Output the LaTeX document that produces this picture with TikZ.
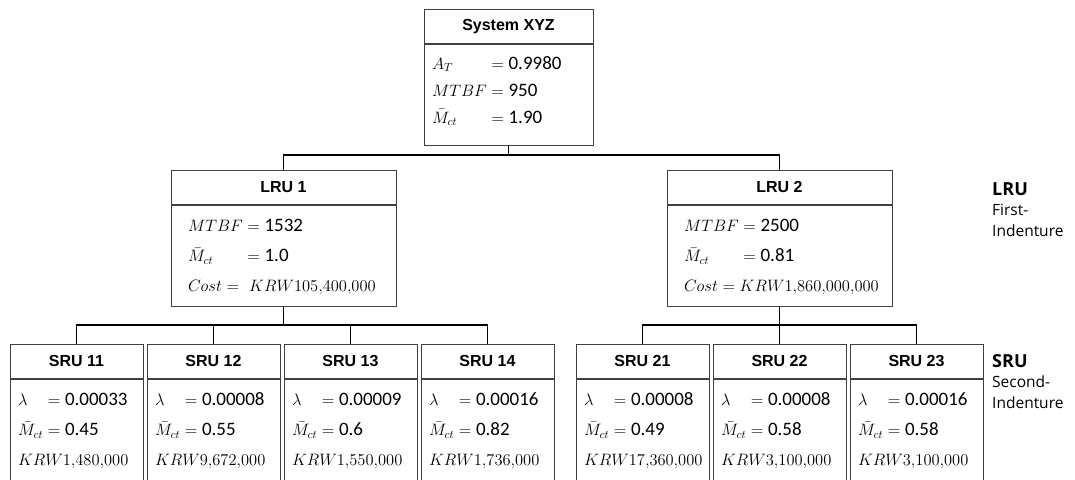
\RequirePackage{fix-cm}
\documentclass[tikz,border=0pt]{standalone}
\usepackage{fontspec}
\usepackage{tikz}
\usetikzlibrary{positioning}
\newfontfamily\hdrfont{Liberation Sans}
\newfontfamily\sidefont{Open Sans}
\setsansfont[Scale=1.15]{Carlito}
\newcommand{\val}[1]{\textsf{#1}}
\definecolor{boxline}{HTML}{404040}

\begin{document}
\begin{tikzpicture}[
        x=1pt, y=-1pt,
        hdr/.style={draw=boxline, line width=0.8pt, minimum width=#1, minimum height=34pt, inner sep=0pt, font=\hdrfont\bfseries\fontsize{16}{19}\selectfont},
        body/.style={draw=boxline, line width=0.8pt, minimum height=101pt, inner ysep=0pt, align=left, font=\fontsize{16.5}{20}\selectfont},
        sysbody/.style={body, text width=153pt, inner xsep=8pt},
        lrubody/.style={body, text width=191pt, inner xsep=17pt},
        srubody/.style={body, text width=117pt, inner xsep=8pt},
        side/.style={anchor=north west, align=left, inner sep=0pt, font=\sidefont\fontsize{15.5}{20.5}\selectfont},
        conn/.style={line width=1.8pt, draw=black}
    ]
    \path[fill=white, use as bounding box] (0,0) rectangle (1075,479);
    \clip (0,0) rectangle (1075,479);

    % system
    \node[hdr=169pt, anchor=north] (sys) at (508.5,9) {System XYZ};
    \node[sysbody, below=0pt of sys] (sysb) {\renewcommand{\arraystretch}{1.35}\begin{tabular}{@{}l@{\;}l@{}}
        $A_T$ & $=\val{0.9980}$\\
        $MTBF$ & $=\val{950}$\\
        $\bar{M}_{ct}$ & $=\val{1.90}$\rule[-16pt]{0pt}{0pt}
    \end{tabular}};

    % first indenture
    \node[hdr=225pt, anchor=north] (lru1) at (283.5,170) {LRU 1};
    \node[lrubody, below=0pt of lru1] (lru1b) {\renewcommand{\arraystretch}{1.5}\begin{tabular}{@{}l@{\;}l@{}}
        $MTBF$ & $=\val{1532}$\\
        $\bar{M}_{ct}$ & $=\val{1.0}$\\
        \multicolumn{2}{@{}l@{}}{$Cost =\ KRW105{,}400{,}000$}
    \end{tabular}};
    \node[hdr=225pt, anchor=north] (lru2) at (779.5,170) {LRU 2};
    \node[lrubody, below=0pt of lru2] (lru2b) {\renewcommand{\arraystretch}{1.5}\begin{tabular}{@{}l@{\;}l@{}}
        $MTBF$ & $=\val{2500}$\\
        $\bar{M}_{ct}$ & $=\val{0.81}$\\
        \multicolumn{2}{@{}l@{}}{$Cost = KRW1{,}860{,}000{,}000$}
    \end{tabular}};

    % second indenture
    \node[hdr=133pt, anchor=north] (s11) at (76.5,344) {SRU 11};
    \node[srubody, below=0pt of s11] (s11b) {\renewcommand{\arraystretch}{1.5}\begin{tabular}{@{}l@{\;}l@{}}
        $\lambda$ & $=\val{0.00033}$\\
        $\bar{M}_{ct}$ & $=\val{0.45}$\\
        \multicolumn{2}{@{}l@{}}{$KRW1{,}480{,}000$}
    \end{tabular}};
    \node[hdr=133pt, anchor=north] (s12) at (213.5,344) {SRU 12};
    \node[srubody, below=0pt of s12] (s12b) {\renewcommand{\arraystretch}{1.5}\begin{tabular}{@{}l@{\;}l@{}}
        $\lambda$ & $=\val{0.00008}$\\
        $\bar{M}_{ct}$ & $=\val{0.55}$\\
        \multicolumn{2}{@{}l@{}}{$KRW9{,}672{,}000$}
    \end{tabular}};
    \node[hdr=133pt, anchor=north] (s13) at (350.5,344) {SRU 13};
    \node[srubody, below=0pt of s13] (s13b) {\renewcommand{\arraystretch}{1.5}\begin{tabular}{@{}l@{\;}l@{}}
        $\lambda$ & $=\val{0.00009}$\\
        $\bar{M}_{ct}$ & $=\val{0.6}$\\
        \multicolumn{2}{@{}l@{}}{$KRW1{,}550{,}000$}
    \end{tabular}};
    \node[hdr=133pt, anchor=north] (s14) at (487.5,344) {SRU 14};
    \node[srubody, below=0pt of s14] (s14b) {\renewcommand{\arraystretch}{1.5}\begin{tabular}{@{}l@{\;}l@{}}
        $\lambda$ & $=\val{0.00016}$\\
        $\bar{M}_{ct}$ & $=\val{0.82}$\\
        \multicolumn{2}{@{}l@{}}{$KRW1{,}736{,}000$}
    \end{tabular}};
    \node[hdr=133pt, anchor=north] (s21) at (642.5,344) {SRU 21};
    \node[srubody, below=0pt of s21] (s21b) {\renewcommand{\arraystretch}{1.5}\begin{tabular}{@{}l@{\;}l@{}}
        $\lambda$ & $=\val{0.00008}$\\
        $\bar{M}_{ct}$ & $=\val{0.49}$\\
        \multicolumn{2}{@{}l@{}}{$KRW17{,}360{,}000$}
    \end{tabular}};
    \node[hdr=133pt, anchor=north] (s22) at (779.5,344) {SRU 22};
    \node[srubody, below=0pt of s22] (s22b) {\renewcommand{\arraystretch}{1.5}\begin{tabular}{@{}l@{\;}l@{}}
        $\lambda$ & $=\val{0.00008}$\\
        $\bar{M}_{ct}$ & $=\val{0.58}$\\
        \multicolumn{2}{@{}l@{}}{$KRW3{,}100{,}000$}
    \end{tabular}};
    \node[hdr=133pt, anchor=north] (s23) at (916.5,344) {SRU 23};
    \node[srubody, below=0pt of s23] (s23b) {\renewcommand{\arraystretch}{1.5}\begin{tabular}{@{}l@{\;}l@{}}
        $\lambda$ & $=\val{0.00016}$\\
        $\bar{M}_{ct}$ & $=\val{0.58}$\\
        \multicolumn{2}{@{}l@{}}{$KRW3{,}100{,}000$}
    \end{tabular}};

    % level labels
    \node[side] (lrulbl) at (992,182) {\textbf{\fontsize{18}{20}\selectfont LRU}\\First-\\Indenture};
    \node[side] (srulbl) at (992,354) {\textbf{\fontsize{18}{20}\selectfont SRU}\\Second-\\Indenture};

    % connectors
    \coordinate (top) at (508.5,155);
    \coordinate (mid1) at (283.5,325);
    \coordinate (mid2) at (779.5,325);
    \draw[conn] (sysb.south) -- (top);
    \draw[conn] (lru1.north) |- (top) -| (lru2.north);
    \draw[conn] (lru1b.south) -- (mid1);
    \draw[conn] (s11.north) |- (mid1) -| (s14.north);
    \draw[conn] (s12.north) -- (s12.north |- mid1);
    \draw[conn] (s13.north) -- (s13.north |- mid1);
    \draw[conn] (lru2b.south) -- (s22.north);
    \draw[conn] (s21.north) |- (mid2) -| (s23.north);
\end{tikzpicture}
\end{document}
